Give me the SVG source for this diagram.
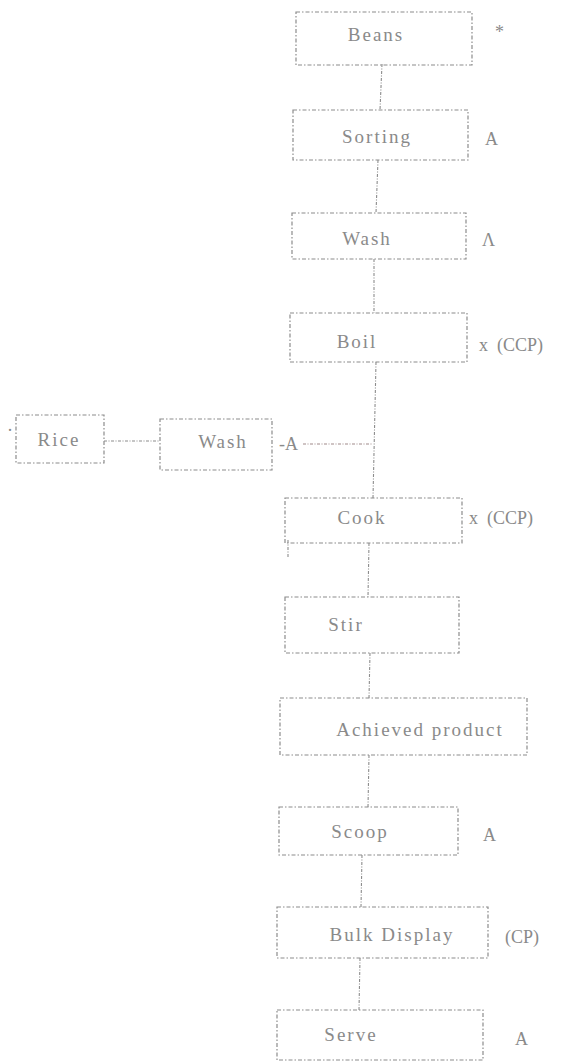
<svg xmlns="http://www.w3.org/2000/svg" width="568" height="1063" viewBox="0 0 568 1063">
<style>
.box{fill:none;stroke:#8c8c8c;stroke-width:1.2;stroke-dasharray:4 2 1.5 2}
.t{font-family:"Liberation Serif","Times New Roman",serif;font-size:19px;letter-spacing:2px;fill:#8a8a8a;text-anchor:middle}
.l{font-family:"Liberation Serif","Times New Roman",serif;font-size:18px;fill:#8a8a8a;white-space:pre}
.c{fill:none;stroke:#8c8c8c;stroke-width:1.1;stroke-dasharray:3 1.5 1 1.5}
</style>
<rect width="568" height="1063" fill="#ffffff"/>
<g id="connectors">
<line class="c" x1="382" y1="64" x2="380" y2="110"/>
<line class="c" x1="378" y1="160" x2="376" y2="213"/>
<line class="c" x1="374" y1="259" x2="374" y2="313"/>
<line class="c" x1="376" y1="362" x2="373" y2="498"/>
<line class="c" x1="104" y1="441" x2="160" y2="441"/>
<line class="c" x1="303" y1="444" x2="373" y2="444" style="stroke:#a08a8a"/>
<line class="c" x1="288" y1="540" x2="288" y2="558"/>
<line class="c" x1="369" y1="543" x2="368" y2="597"/>
<line class="c" x1="370" y1="653" x2="369" y2="698"/>
<line class="c" x1="369" y1="755" x2="368" y2="807"/>
<line class="c" x1="362" y1="855" x2="361" y2="907"/>
<line class="c" x1="360" y1="958" x2="359" y2="1010"/>
</g>
<g id="beans"><rect class="box" x="296" y="12" width="176" height="53"/><text class="t" x="376" y="41">Beans</text><text class="l" x="495" y="38">*</text></g>
<g id="sorting"><rect class="box" x="293" y="110" width="175" height="50"/><text class="t" x="377" y="143">Sorting</text><text class="l" x="485" y="145">A</text></g>
<g id="wash"><rect class="box" x="292" y="213" width="174" height="46"/><text class="t" x="367" y="245">Wash</text><text class="l" x="482" y="246">Λ</text></g>
<g id="boil"><rect class="box" x="290" y="313" width="177" height="49"/><text class="t" x="357" y="348">Boil</text><text class="l" x="479" y="351">x  (CCP)</text></g>
<g id="rice"><rect class="box" x="16" y="415" width="88" height="48"/><text class="t" x="59" y="446">Rice</text><text class="l" x="7" y="436">·</text></g>
<g id="wash2"><rect class="box" x="160" y="419" width="112" height="51"/><text class="t" x="223" y="448">Wash</text><text class="l" x="279" y="450">-A</text></g>
<g id="cook"><rect class="box" x="285" y="498" width="177" height="45"/><text class="t" x="362" y="524">Cook</text><text class="l" x="469" y="524">x  (CCP)</text></g>
<g id="stir"><rect class="box" x="285" y="597" width="174" height="56"/><text class="t" x="346" y="631">Stir</text></g>
<g id="achieved"><rect class="box" x="280" y="698" width="247" height="57"/><text class="t" x="420" y="736">Achieved  product</text></g>
<g id="scoop"><rect class="box" x="279" y="807" width="179" height="48"/><text class="t" x="360" y="838">Scoop</text><text class="l" x="483" y="841">A</text></g>
<g id="bulk"><rect class="box" x="277" y="907" width="211" height="51"/><text class="t" x="392" y="941">Bulk  Display</text><text class="l" x="505" y="943">(CP)</text></g>
<g id="serve"><rect class="box" x="277" y="1010" width="206" height="50"/><text class="t" x="351" y="1041">Serve</text><text class="l" x="515" y="1045">A</text></g>
</svg>
